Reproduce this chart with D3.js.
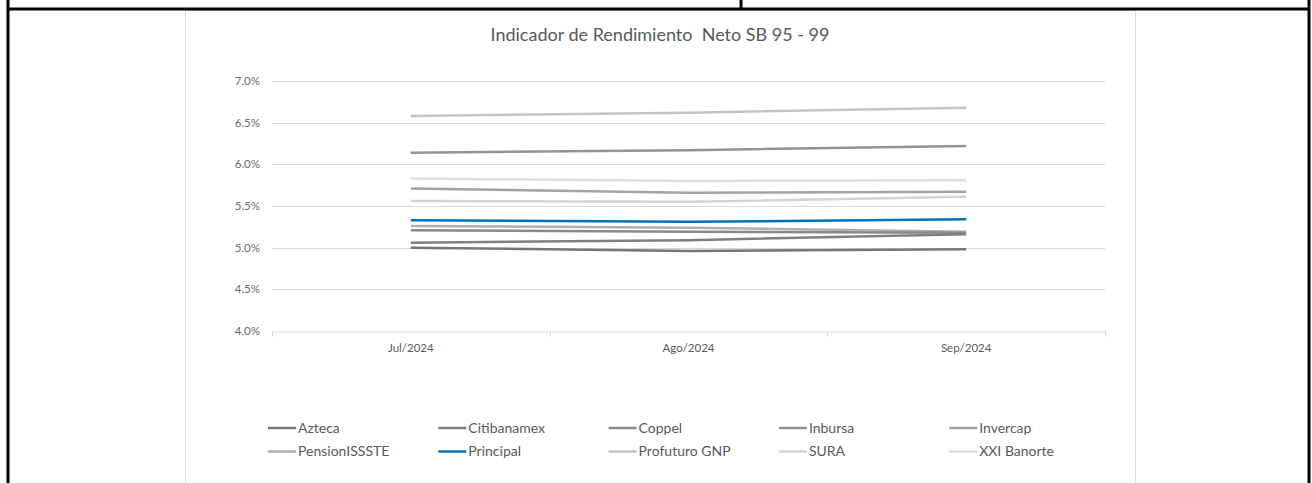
<!DOCTYPE html>
<html>
<head>
<meta charset="utf-8">
<script src="https://cdn.jsdelivr.net/npm/d3@7"></script>
<style>
  body { margin: 0; background: #fff; }
  svg { display: block; font-family: Lato, "Open Sans", sans-serif; }
</style>
</head>
<body>
<svg width="1312" height="483"></svg>
<script>
var months = ["Jul/2024", "Ago/2024", "Sep/2024"];
var yTicks = [4.0, 4.5, 5.0, 5.5, 6.0, 6.5, 7.0];
var names = ["Azteca", "Citibanamex", "Coppel", "Inbursa", "Invercap",
             "PensionISSSTE", "Principal", "Profuturo GNP", "SURA", "XXI Banorte"];
var azteca = [5.00, 4.96, 4.98];
var citibanamex = [5.06, 5.09, 5.16];
var coppel = [5.21, 5.19, 5.18];
var inbursa = [6.14, 6.17, 6.22];
var invercap = [5.71, 5.66, 5.67];
var pensionissste = [5.26, 5.24, 5.19];
var principal = [5.33, 5.31, 5.34];
var profuturo = [6.58, 6.62, 6.68];
var sura = [5.56, 5.55, 5.61];
var xxiBanorte = [5.83, 5.80, 5.81];
var colors = ["#767676", "#7f7f7f", "#898989", "#939393", "#a3a3a3",
              "#afafaf", "#0070c0", "#c3c3c3", "#d3d3d3", "#dedede"];

var seriesValues = [azteca, citibanamex, coppel, inbursa, invercap,
                    pensionissste, principal, profuturo, sura, xxiBanorte];
var series = names.map(function(n, i) {
  return { name: n, values: seriesValues[i], color: colors[i] };
});

var svg = d3.select("svg");

// outer table frame
svg.append("rect").attr("x", 0).attr("y", 0).attr("width", 1312).attr("height", 483).attr("fill", "#fff");
svg.append("rect")
    .attr("x", 185.5).attr("y", 10.5).attr("width", 950).attr("height", 490)
    .attr("fill", "#fff").attr("stroke", "#d9d9d9");
var frame = svg.append("g").attr("stroke", "#000").attr("stroke-width", 3);
frame.append("line").attr("x1", 8).attr("x2", 8).attr("y1", 0).attr("y2", 483);
frame.append("line").attr("x1", 1309).attr("x2", 1309).attr("y1", 0).attr("y2", 483);
frame.append("line").attr("x1", 8).attr("x2", 1309).attr("y1", 9).attr("y2", 9);
frame.append("line").attr("x1", 741).attr("x2", 741).attr("y1", 0).attr("y2", 9);

var x = d3.scaleBand().domain(months).range([272, 1105]);
var y = d3.scaleLinear().domain([4.0, 7.0]).range([331, 81]);

svg.append("text")
    .attr("x", 660).attr("y", 41)
    .attr("text-anchor", "middle")
    .attr("font-size", 18).attr("fill", "#595959")
    .style("white-space", "pre")
    .text("Indicador de Rendimiento  Neto SB 95 - 99");

// gridlines
svg.append("g").selectAll("line")
    .data(yTicks.filter(function(d) { return d > 4.0; }))
    .enter().append("line")
    .attr("x1", 272).attr("x2", 1105)
    .attr("y1", function(d) { return Math.round(y(d)) + 0.5; })
    .attr("y2", function(d) { return Math.round(y(d)) + 0.5; })
    .attr("stroke", "#d9d9d9");

// y labels
svg.append("g").selectAll("text")
    .data(yTicks)
    .enter().append("text")
    .attr("x", 260)
    .attr("y", function(d) { return y(d); })
    .attr("dy", "0.35em")
    .attr("text-anchor", "end")
    .attr("font-size", 11.5).attr("fill", "#6a6a6a")
    .text(function(d) { return d.toFixed(1) + "%"; });

// x axis
var xAxis = svg.append("g")
    .attr("transform", "translate(0," + (Math.round(y(4.0)) + 0.5) + ")")
    .call(d3.axisBottom(x).tickSize(0).tickPadding(12));
xAxis.select(".domain").attr("stroke", "#d9d9d9");
xAxis.selectAll("text").attr("font-size", 11.5).attr("fill", "#595959")
    .attr("font-family", "Lato, 'Open Sans', sans-serif");
var edges = months.map(function(m) { return x(m); }).concat([x.range()[1]]);
xAxis.selectAll(".edge").data(edges).enter().append("line")
    .attr("class", "edge")
    .attr("x1", function(d) { return Math.round(d) + 0.5; })
    .attr("x2", function(d) { return Math.round(d) + 0.5; })
    .attr("y1", 0).attr("y2", 5)
    .attr("stroke", "#d9d9d9");

// lines, drawn from lightest so darker ones sit on top
var line = d3.line()
    .x(function(d, i) { return x(months[i]) + x.bandwidth() / 2; })
    .y(function(d) { return y(d); });

svg.append("g").selectAll("path")
    .data(series.slice().reverse().sort(function(a, b) {
      return (a.name === "Principal") - (b.name === "Principal");
    }))
    .enter().append("path")
    .attr("d", function(d) { return line(d.values); })
    .attr("fill", "none")
    .attr("stroke", function(d) { return d.color; })
    .attr("stroke-width", 2.5);

// legend
var legend = svg.append("g").selectAll("g")
    .data(series)
    .enter().append("g")
    .attr("transform", function(d, i) {
      return "translate(" + (268 + (i % 5) * 170.3) + "," + (428 + Math.floor(i / 5) * 23.5) + ")";
    });
legend.append("line")
    .attr("x1", 0).attr("x2", 28)
    .attr("stroke", function(d) { return d.color; })
    .attr("stroke-width", 2.5);
legend.append("text")
    .attr("x", 30).attr("dy", "0.35em")
    .attr("font-size", 14).attr("fill", "#595959")
    .text(function(d) { return d.name; });
</script>
</body>
</html>
